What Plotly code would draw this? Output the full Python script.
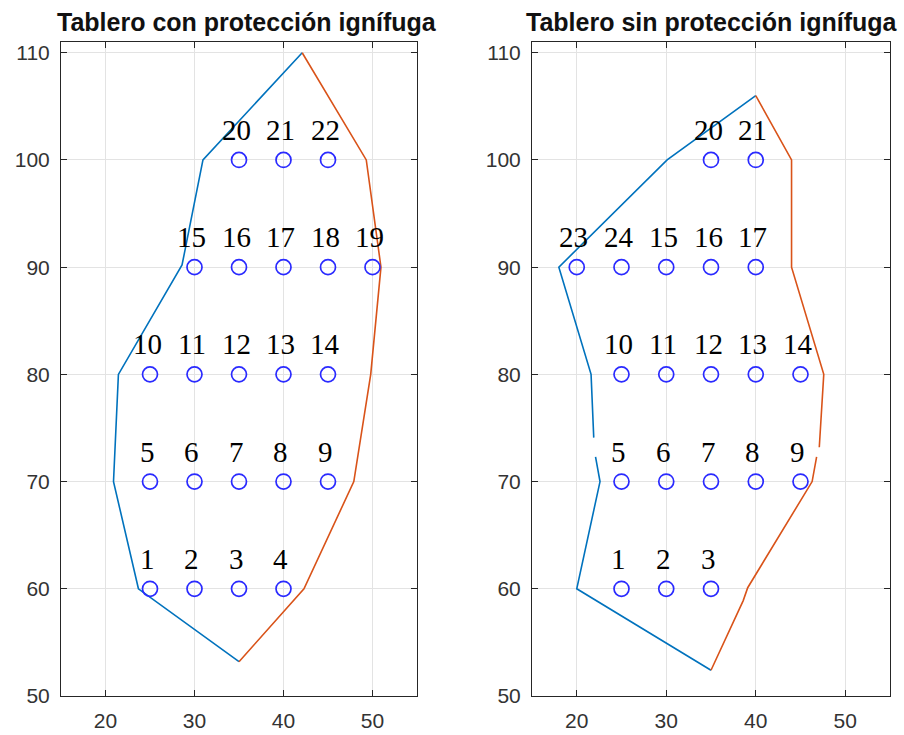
import plotly.graph_objects as go

# ---- Panel 1: board with fire protection ----
con_x = [25, 30, 35, 40,
         25, 30, 35, 40, 45,
         25, 30, 35, 40, 45,
         30, 35, 40, 45, 50,
         35, 40, 45]
con_y = [60, 60, 60, 60,
         70, 70, 70, 70, 70,
         80, 80, 80, 80, 80,
         90, 90, 90, 90, 90,
         100, 100, 100]
con_labels = [str(i) for i in range(1, 23)]

con_left_x = [35, 23.7, 20.9, 21.45, 28.6, 30.95, 42.1]
con_left_y = [53.2, 60, 70, 80, 90.2, 100, 110]
con_right_x = [42.1, 49.3, 50.95, 49.8, 47.9, 42.3, 35]
con_right_y = [110, 100, 90, 80, 70, 60, 53.2]

# ---- Panel 2: board without fire protection ----
sin_x = [25, 30, 35,
         25, 30, 35, 40, 45,
         25, 30, 35, 40, 45,
         20, 25, 30, 35, 40,
         35, 40]
sin_y = [60, 60, 60,
         70, 70, 70, 70, 70,
         80, 80, 80, 80, 80,
         90, 90, 90, 90, 90,
         100, 100]
sin_labels = ["1", "2", "3",
              "5", "6", "7", "8", "9",
              "10", "11", "12", "13", "14",
              "23", "24", "15", "16", "17",
              "20", "21"]

sin_left_x = [35, 20, 22.6, 22.1, None, 21.9, 21.6, 18, 30.1, 40]
sin_left_y = [52.4, 60, 70, 72.3, None, 74.1, 80, 90, 100, 106]
sin_right_x = [40, 44, 44, 47.6, 47.1, None, 46.8, 46.3, 39.1, 38.6, 35]
sin_right_y = [106, 100, 90, 80, 73.2, None, 72.3, 70, 60.1, 58.9, 52.4]

titles = ["Tablero con protección ignífuga", "Tablero sin protección ignífuga"]
x_ticks = [20, 30, 40, 50]
y_ticks = [50, 60, 70, 80, 90, 100, 110]

BLUE_LINE = "#0072BD"
ORANGE_LINE = "#D95319"
AXIS_COL = "#262626"

W, H = 904, 735
x_domains = [[61 / W, 417 / W], [532 / W, 890 / W]]
y_domain = [1 - 696 / H, 1 - 42 / H]
title_centers = [247 / W, 711 / W]

fig = go.Figure()

panels = [
    (con_x, con_y, con_labels, con_left_x, con_left_y, con_right_x, con_right_y),
    (sin_x, sin_y, sin_labels, sin_left_x, sin_left_y, sin_right_x, sin_right_y),
]

annotations = []
for i, (px, py, labs, lx, ly, rx, ry) in enumerate(panels):
    xa = "x" if i == 0 else "x2"
    ya = "y" if i == 0 else "y2"
    fig.add_trace(go.Scatter(x=lx, y=ly, mode="lines", xaxis=xa, yaxis=ya,
                             line=dict(color=BLUE_LINE, width=1.6),
                             connectgaps=False, showlegend=False))
    fig.add_trace(go.Scatter(x=rx, y=ry, mode="lines", xaxis=xa, yaxis=ya,
                             line=dict(color=ORANGE_LINE, width=1.6),
                             connectgaps=False, showlegend=False))
    fig.add_trace(go.Scatter(x=px, y=py, mode="markers", xaxis=xa, yaxis=ya,
                             marker=dict(symbol="circle-open", size=15,
                                         color="#2a2aff", line=dict(width=1.7)),
                             showlegend=False))
    for xv, yv, t in zip(px, py, labs):
        annotations.append(dict(x=xv, y=yv, xref=xa, yref=ya, text=t,
                                showarrow=False, xanchor="center", yanchor="middle",
                                xshift=-3, yshift=30,
                                font=dict(family="Liberation Serif, Times New Roman, serif",
                                          size=29, color="black")))
    annotations.append(dict(x=title_centers[i], y=1 - 22 / H,
                            xref="paper", yref="paper", text="<b>" + titles[i] + "</b>",
                            showarrow=False, xanchor="center", yanchor="middle",
                            font=dict(family="Liberation Sans, Arial, sans-serif",
                                      size=25, color="#111111")))

axis_common = dict(
    showline=True, linecolor=AXIS_COL, linewidth=1, mirror="ticks",
    ticks="inside", ticklen=6, tickcolor=AXIS_COL, tickwidth=1,
    showgrid=True, gridcolor="#e3e3e3", gridwidth=1, zeroline=False,
    automargin=False, ticklabelstandoff=6,
    tickfont=dict(family="Liberation Sans, Arial, sans-serif", size=21, color="#333333"),
)

fig.update_layout(
    width=W, height=H,
    margin=dict(l=0, r=0, t=0, b=0, autoexpand=False),
    paper_bgcolor="white", plot_bgcolor="white",
    annotations=annotations,
    xaxis=dict(domain=x_domains[0], range=[15, 55], tickvals=x_ticks,
               anchor="y", **axis_common),
    yaxis=dict(domain=y_domain, range=[50, 111], tickvals=y_ticks,
               anchor="x", **axis_common),
    xaxis2=dict(domain=x_domains[1], range=[15, 55], tickvals=x_ticks,
                anchor="y2", **axis_common),
    yaxis2=dict(domain=y_domain, range=[50, 111], tickvals=y_ticks,
                anchor="x2", **axis_common),
)

fig.write_html("out.html")
